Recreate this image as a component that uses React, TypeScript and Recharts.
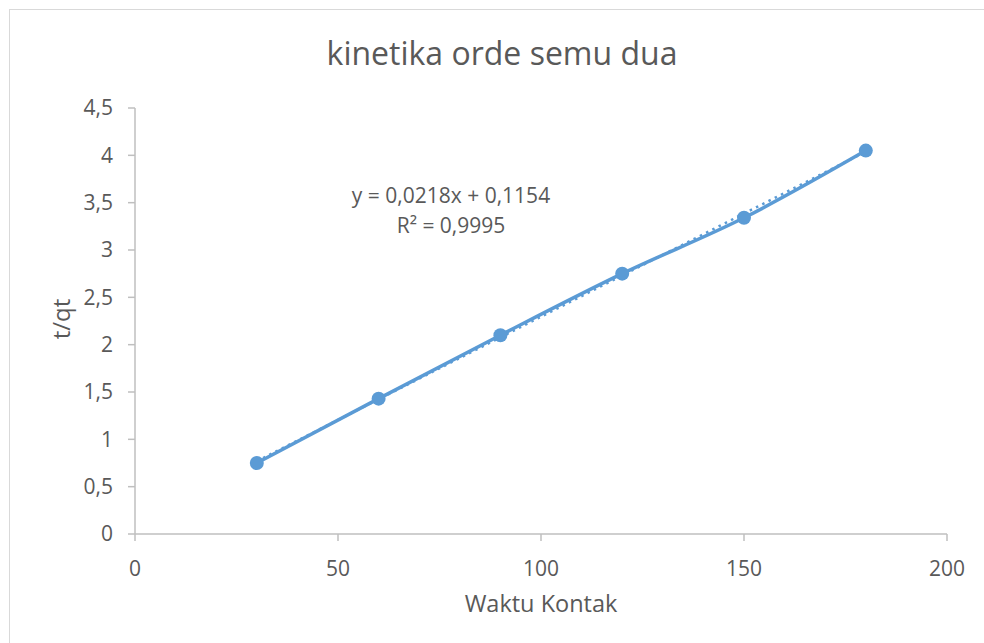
import {
  ComposedChart,
  Line,
  Scatter,
  XAxis,
  YAxis,
  Label,
  Customized,
} from "recharts";

const waktu = [30, 60, 90, 120, 150, 180];
const tqt = [0.75, 1.43, 2.1, 2.75, 3.34, 4.05];

// linear trendline ends (y = 0,0218x + 0,1154)
const trendX = [30, 180];
const trendY = [0.769, 4.039];

const xTicks = [0, 50, 100, 150, 200];
const xTickLabels = ["0", "50", "100", "150", "200"];
const yTicks = [0, 0.5, 1, 1.5, 2, 2.5, 3, 3.5, 4, 4.5];
const yTickLabels = ["0", "0,5", "1", "1,5", "2", "2,5", "3", "3,5", "4", "4,5"];

const title = "kinetika orde semu dua";
const equation = "y = 0,0218x + 0,1154";
const rSquared = "R² = 0,9995";

const FONT = "'Open Sans', 'Noto Sans', sans-serif";
const TEXT = "#595959";
const AXIS = "#bfbfbf";
const BLUE = "#5b9bd5";

const points = waktu.map((x, i) => ({ x, y: tqt[i] }));
const trend = trendX.map((x, i) => ({ x, y: trendY[i] }));

function Overlay() {
  return (
    <g fontFamily={FONT} fill={TEXT}>
      <text x={502} y={65} textAnchor="middle" fontSize={32}>
        {title}
      </text>
      <text x={451} y={203} textAnchor="middle" fontSize={21}>
        {equation}
      </text>
      <text x={451} y={233} textAnchor="middle" fontSize={21}>
        {rSquared}
      </text>
      <text
        x={70}
        y={319}
        textAnchor="middle"
        fontSize={24}
        transform="rotate(-90, 70, 319)"
      >
        t/qt
      </text>
    </g>
  );
}

export default function App() {
  return (
    <div
      style={{
        position: "fixed",
        left: 0,
        top: 0,
        width: 984,
        height: 643,
        overflow: "hidden",
        background: "#fff",
      }}
    >
      <div
        style={{
          position: "absolute",
          left: 9,
          top: 9,
          width: 1000,
          height: 700,
          border: "1px solid #d9d9d9",
        }}
      />
      <div style={{ position: "absolute", left: 0, top: 0 }}>
        <ComposedChart
          width={984}
          height={643}
          margin={{ top: 108, right: 37, bottom: 0, left: 0 }}
        >
          <XAxis
            dataKey="x"
            type="number"
            domain={[0, 200]}
            ticks={xTicks}
            tickFormatter={(_v: number, i: number) => xTickLabels[i]}
            height={109}
            tickSize={7}
            tickMargin={20}
            stroke={AXIS}
            strokeWidth={1.5}
            tick={{ fill: TEXT, fontSize: 21, fontFamily: FONT }}
            allowDataOverflow
          >
            <Label
              value="Waktu Kontak"
              position="insideBottom"
              offset={31}
              fill={TEXT}
              fontSize={23.5}
              fontFamily={FONT}
            />
          </XAxis>
          <YAxis
            dataKey="y"
            type="number"
            domain={[0, 4.5]}
            ticks={yTicks}
            tickFormatter={(_v: number, i: number) => yTickLabels[i]}
            width={135}
            tickSize={7}
            tickMargin={15}
            stroke={AXIS}
            strokeWidth={1.5}
            tick={{ fill: TEXT, fontSize: 21, fontFamily: FONT }}
            allowDataOverflow
          />
          <Line
            data={points}
            dataKey="y"
            type="monotone"
            stroke={BLUE}
            strokeWidth={3.5}
            dot={false}
            activeDot={false}
            isAnimationActive={false}
          />
          <Line
            data={trend}
            dataKey="y"
            type="linear"
            stroke={BLUE}
            strokeWidth={2.5}
            strokeDasharray="2.5 4.5"
            dot={false}
            activeDot={false}
            isAnimationActive={false}
          />
          <Scatter
            data={points}
            dataKey="y"
            fill={BLUE}
            shape={(p: any) => <circle cx={p.cx} cy={p.cy} r={7} fill={BLUE} />}
            isAnimationActive={false}
          />
          <Customized component={Overlay} />
        </ComposedChart>
      </div>
    </div>
  );
}
